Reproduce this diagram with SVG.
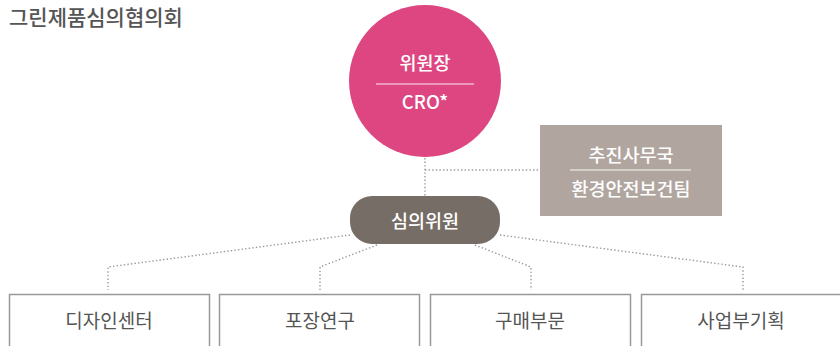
<svg xmlns="http://www.w3.org/2000/svg" width="840" height="346" viewBox="0 0 840 346">
<style>
text{font-family:"Noto Sans CJK KR","Noto Sans",sans-serif;}
.t{font-size:21px;fill:#555;font-weight:500;}
.w{font-size:18.5px;fill:#fff;text-anchor:middle;font-weight:500;}
.b{font-size:19px;fill:#555;text-anchor:middle;}
.dot{fill:none;stroke:#999;stroke-width:1.4;stroke-dasharray:1.4 2.2;}
.box{fill:#fff;stroke:#999;stroke-width:1.5;}
.sep{stroke:#fff;stroke-opacity:0.6;stroke-width:1.5;}
</style>
<text class="t" x="9" y="25">그린제품심의협의회</text>
<g id="connectors">
<path class="dot" d="M425 158V196"/>
<path class="dot" d="M425 170H539"/>
<path class="dot" d="M350 235L108 267V290"/>
<path class="dot" d="M377 245L320 267V290"/>
<path class="dot" d="M475 245L531 267V290"/>
<path class="dot" d="M500 235L743 267V290"/>
</g>
<g id="chair">
<circle cx="425" cy="81" r="76" fill="#dd4681"/>
<line class="sep" x1="376" y1="84" x2="474" y2="84"/>
<text class="w" x="425" y="70">위원장</text>
<text class="w" x="425" y="109">CRO*</text>
</g>
<g id="office">
<rect x="540" y="125" width="182" height="91" fill="#b0a69f"/>
<line class="sep" x1="570" y1="170" x2="691" y2="170"/>
<text class="w" x="631" y="162">추진사무국</text>
<text class="w" x="631" y="196">환경안전보건팀</text>
</g>
<g id="members">
<rect x="350" y="196" width="150" height="48" rx="22" fill="#766d67"/>
<text class="w" x="425" y="228">심의위원</text>
</g>
<g id="design">
<rect class="box" x="9.5" y="294.5" width="200" height="60"/>
<text class="b" x="109" y="328">디자인센터</text>
</g>
<g id="packaging">
<rect class="box" x="219.5" y="294.5" width="200" height="60"/>
<text class="b" x="320" y="328">포장연구</text>
</g>
<g id="purchasing">
<rect class="box" x="430.5" y="294.5" width="200" height="60"/>
<text class="b" x="530" y="328">구매부문</text>
</g>
<g id="planning">
<rect class="box" x="641.5" y="294.5" width="210" height="60"/>
<text class="b" x="741" y="328">사업부기획</text>
</g>
</svg>
